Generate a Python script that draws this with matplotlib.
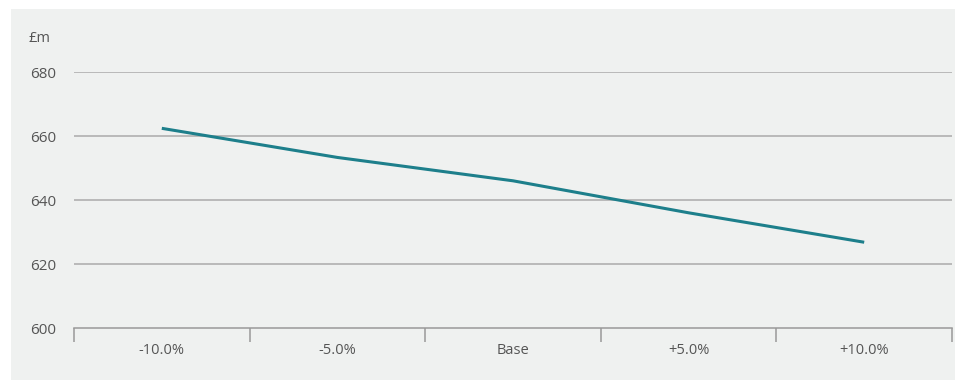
import numpy as np
import matplotlib.pyplot as plt
from matplotlib.patches import Rectangle

# sensitivity data
categories = ['-10.0%', '-5.0%', 'Base', '+5.0%', '+10.0%']
values = [662.4, 653.3, 646.0, 636.0, 626.8]
yticks = [600, 620, 640, 660, 680]

plt.rcParams['font.family'] = ['Open Sans', 'DejaVu Sans']
txt = '#555555'
bg = '#eff1f0'

fig = plt.figure(figsize=(9.55, 3.8), dpi=100)
fig.patches.append(Rectangle((11/955, 0), 1 - 11/955, 1 - 9/380,
                             transform=fig.transFigure, facecolor=bg,
                             edgecolor='none', zorder=-10))

ax = fig.add_axes([74/955, 52/380, 878/955, 256/380])
ax.set_facecolor('none')
ax.set_zorder(1)

x = np.arange(len(categories))
ax.plot(x, values, color='#1d7f8b', lw=2.2, solid_capstyle='butt', zorder=3)

ax.set_xlim(-0.5, len(categories) - 0.5)
ax.set_ylim(600, 680)
ax.set_yticks(yticks)
for y in yticks[1:]:
    ax.axhline(y, color='#aaaaaa', lw=1.1, zorder=1)

for s in ['top', 'right', 'left']:
    ax.spines[s].set_visible(False)
ax.spines['bottom'].set_color('#999999')
ax.spines['bottom'].set_linewidth(1.1)

# category labels at centres, tick marks at boundaries
ax.set_xticks(x)
ax.set_xticklabels(categories, color=txt, fontsize=10.5)
ax.tick_params(axis='x', length=0, pad=11)
ax.set_xticks(np.arange(-0.5, len(categories)), minor=True)
ax.tick_params(axis='x', which='minor', length=10, color='#999999', width=1.1)

ax.tick_params(axis='y', length=0, pad=13, labelcolor=txt, labelsize=11)

fig.text(28/955, 1 - 38/380, '£m', color=txt, fontsize=10.5, va='center', ha='left')

fig.savefig('out.png', dpi=100)
